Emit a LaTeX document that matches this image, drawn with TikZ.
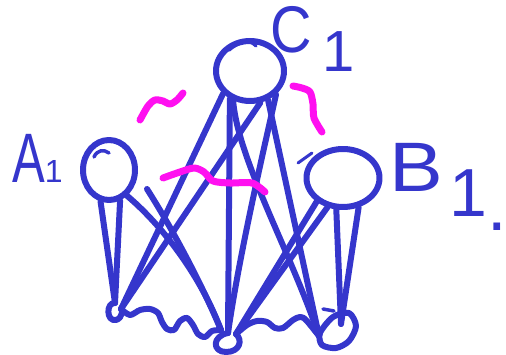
\documentclass[tikz,border=0pt]{standalone}
\usepackage{fontspec}
\setmainfont{Liberation Sans}
\usepackage{graphicx}
\usetikzlibrary{shapes.geometric}
\definecolor{penblue}{RGB}{53,54,204}
\definecolor{hlmag}{RGB}{255,16,240}
\tikzset{
  pen/.style={draw=penblue, line width=6pt, line cap=round, line join=round},
  hl/.style={draw=hlmag, line width=7pt, line cap=round, line join=round},
  circ/.style={ellipse, pen, inner sep=0pt},
  lbl/.style={text=penblue, font=\fontsize{70}{70}\selectfont, inner sep=0pt, anchor=base west}
}
\begin{document}
\begin{tikzpicture}[x=1pt, y=-1pt]
\useasboundingbox (0,0) rectangle (506,355);
% circles
\node[circ, minimum width=52, minimum height=60] (A) at (109,170) {};
\node[circ, minimum width=68, minimum height=60] (C) at (250,71) {};
\node[circ, minimum width=73, minimum height=58] (B) at (343,178) {};
% labels
\node[lbl] (labA) at (12,183) {\scalebox{0.7}[1]{A}\kern0pt{\fontsize{32}{32}\selectfont 1}};
\node[lbl] (labC) at (270,53) {{\fontsize{66}{66}\selectfont\scalebox{0.87}[1]{C}}\kern11pt\raisebox{-19pt}{\fontsize{58}{58}\selectfont 1}};
\node[lbl] (labB) at (389,192) {\scalebox{1.15}[1]{B}\kern7pt\raisebox{-25pt}{\fontsize{68}{68}\selectfont 1}\raisebox{-39pt}{.}};
% bottom points
\coordinate (La) at (115,303);
\coordinate (Lc) at (121,309);
\coordinate (Ma) at (221,330);
\coordinate (Mc) at (228,333);
\coordinate (Mb) at (236,334);
\coordinate (Rc) at (319,336);
\coordinate (Rb) at (341,324);
\coordinate (a4) at (147,189);
% A connectors
\draw[pen] (A.-105) -- (La);
\draw[pen] (A.-70) -- (La);
\draw[pen] (A.-55) .. controls (150,215) and (195,262) .. (Ma);
\draw[pen] (a4) .. controls (170,225) and (200,280) .. (Ma);
% C connectors
\draw[pen] (C.-140) -- (Lc);
\draw[pen] (C.-72) -- (Lc);
\draw[pen] (C.-126) -- (Mc);
\draw[pen] (C.-42) .. controls (266,140) and (240,250) .. (Mc);
\draw[pen] (C.-120) .. controls (238,160) and (290,250) .. (Rc);
\draw[pen] (C.-58) -- (Rc);
% B connectors
\draw[pen] (B.-138) -- (Mb);
\draw[pen] (B.-118) -- (Mb);
\draw[pen] (B.-102) -- (Rb);
\draw[pen] (B.-62) -- (Rb);
% bottom loops
\draw[pen] (La) .. controls (106,302) and (106,322) .. (116,320) .. controls (123,318) and (123,308) .. (Lc);
\draw[pen] (Mc) .. controls (212,336) and (212,352) .. (226,352) .. controls (240,352) and (243,340) .. (Mb);
\draw[pen] plot[smooth cycle] coordinates {(333,317) (349,313) (356,326) (349,341) (336,348) (322,345) (320,333)};
\draw[pen, line width=3.5pt] (323,309) -- (334,311);
% wavy connectors
\draw[pen] plot[smooth] coordinates {(Lc) (130,315) (140,310) (150,309) (158,313) (162,322) (167,329) (174,330) (180,321) (187,318) (193,325) (198,334) (205,337) (212,331) (Ma)};
\draw[pen] plot[smooth] coordinates {(Mb) (247,325) (257,321) (267,322) (275,328) (283,328) (293,320) (300,317) (306,320) (Rc)};
% pen start marks
\draw[pen, line width=3.5pt] (229,50) .. controls (238,42) and (250,38) .. (256,46);
\draw[pen, line width=3.5pt] (94,157) .. controls (97,150) and (104,149) .. (109,153);
\draw[pen, line width=3pt] (298,163) -- (312,153);
% magenta squiggles
\draw[hl] plot[smooth] coordinates {(140,120) (148,106) (155,100) (163,101) (170,104) (177,100) (183,93)};
\draw[hl] plot[smooth] coordinates {(293,86) (302,88) (310,92) (313,104) (314,118) (322,132)};
\draw[hl] plot[smooth] coordinates {(163,178) (180,172) (194,168) (204,172) (213,181) (230,183) (252,183) (265,192)};
\end{tikzpicture}
\end{document}
